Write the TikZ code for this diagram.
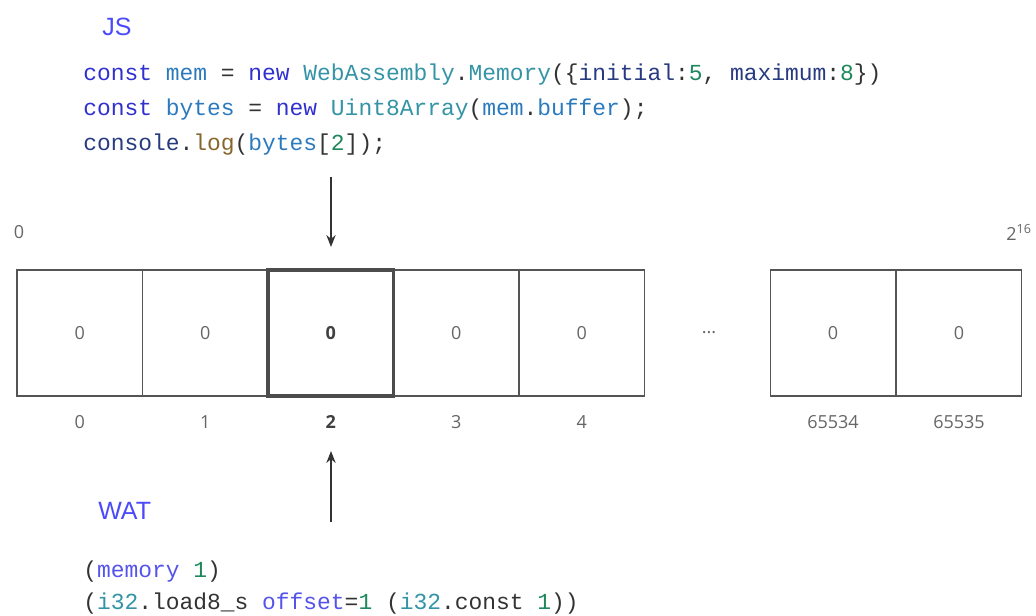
\documentclass[tikz,border=0pt]{standalone}
\usepackage{fontspec}
\setmainfont{Open Sans}
\setmonofont{Liberation Mono}
\newfontfamily\headfont{Liberation Sans}
\usetikzlibrary{arrows.meta}
\definecolor{kw}{RGB}{48,48,208}
\definecolor{var}{RGB}{44,122,190}
\definecolor{typ}{RGB}{52,148,166}
\definecolor{prop}{RGB}{40,58,128}
\definecolor{fn}{RGB}{134,102,44}
\definecolor{num}{RGB}{30,136,92}
\definecolor{punc}{RGB}{51,51,51}
\definecolor{watkw}{RGB}{84,84,236}
\definecolor{label}{RGB}{74,74,250}
\definecolor{cellline}{RGB}{85,85,85}
\definecolor{celltext}{RGB}{102,102,102}
\tikzset{
  codeline/.style={anchor=base west, inner sep=0pt, font=\fontsize{17.2pt}{20pt}\ttfamily, text=punc},
  headline/.style={anchor=base west, inner sep=0pt, text=label, font=\fontsize{18.75pt}{22pt}\headfont},
  cell/.style={draw=cellline, line width=0.9pt, minimum width=94.1pt, minimum height=94.5pt, inner sep=0pt,
               font=\fontsize{13.5pt}{16pt}\selectfont, text=celltext},
  hicell/.style={cell, draw=black!70, line width=2.4pt, font=\fontsize{13.5pt}{16pt}\selectfont\bfseries, text=black!75},
  idx/.style={inner sep=0pt, font=\fontsize{13.5pt}{16pt}\selectfont, text=celltext},
  pointer/.style={draw=black!80, line width=1.1pt, -{Stealth[length=9pt,width=7pt]}}
}
\begin{document}
\begin{tikzpicture}[x=0.75pt, y=-0.75pt]
\useasboundingbox (0,0) rectangle (1036,615);

% JavaScript side
\node[headline] (js) at (102,35) {JS};
\node[codeline] (js1) at (83,80) {\textcolor{kw}{const} \textcolor{var}{mem} = \textcolor{kw}{new} \textcolor{typ}{WebAssembly}.\textcolor{typ}{Memory}(\{\textcolor{prop}{initial}:\textcolor{num}{5}, \textcolor{prop}{maximum}:\textcolor{num}{8}\})};
\node[codeline] (js2) at (83,115) {\textcolor{kw}{const} \textcolor{var}{bytes} = \textcolor{kw}{new} \textcolor{typ}{Uint8Array}(\textcolor{var}{mem}.\textcolor{var}{buffer});};
\node[codeline] (js3) at (83,150) {\textcolor{prop}{console}.\textcolor{fn}{log}(\textcolor{var}{bytes}[\textcolor{num}{2}]);};

% address range
\node[idx] (lo) at (19,232) {0};
\node[idx] (hi) at (1019,232) {2\textsuperscript{16}};

% memory cells
\node[cell] (c0) at (79.75,333) {0};
\node[cell] (c1) at (205.25,333) {0};
\node[cell] (c3) at (456.25,333) {0};
\node[cell] (c4) at (581.75,333) {0};
\node[cell] (c5) at (833,333) {0};
\node[cell] (c6) at (959,333) {0};
\node[hicell] (c2) at (330.75,333) {0};
\node[idx] (dots) at (709,333) {...};

% byte indices
\node[idx] (i0) at (79.75,422) {0};
\node[idx] (i1) at (205.25,422) {1};
\node[idx, text=black!75, font=\fontsize{13.5pt}{16pt}\selectfont\bfseries] (i2) at (330.75,422) {2};
\node[idx] (i3) at (456.25,422) {3};
\node[idx] (i4) at (581.75,422) {4};
\node[idx] (i5) at (833,422) {65534};
\node[idx] (i6) at (959,422) {65535};

% pointers to byte 2
\coordinate (jsfrom) at (331,177);
\coordinate (jsto) at (331,247);
\coordinate (watfrom) at (331,522);
\coordinate (watto) at (331,451);
\draw[pointer] (jsfrom) -- (jsto);
\draw[pointer] (watfrom) -- (watto);

% WebAssembly text side
\node[headline] (wat) at (98,519) {WAT};
\node[codeline] (wat1) at (83,577) {(\textcolor{watkw}{memory} \textcolor{num}{1})};
\node[codeline] (wat2) at (83,609) {(\textcolor{typ}{i32}.load8\_s \textcolor{watkw}{offset}=\textcolor{num}{1} (\textcolor{typ}{i32}.const \textcolor{num}{1}))};
\end{tikzpicture}
\end{document}
